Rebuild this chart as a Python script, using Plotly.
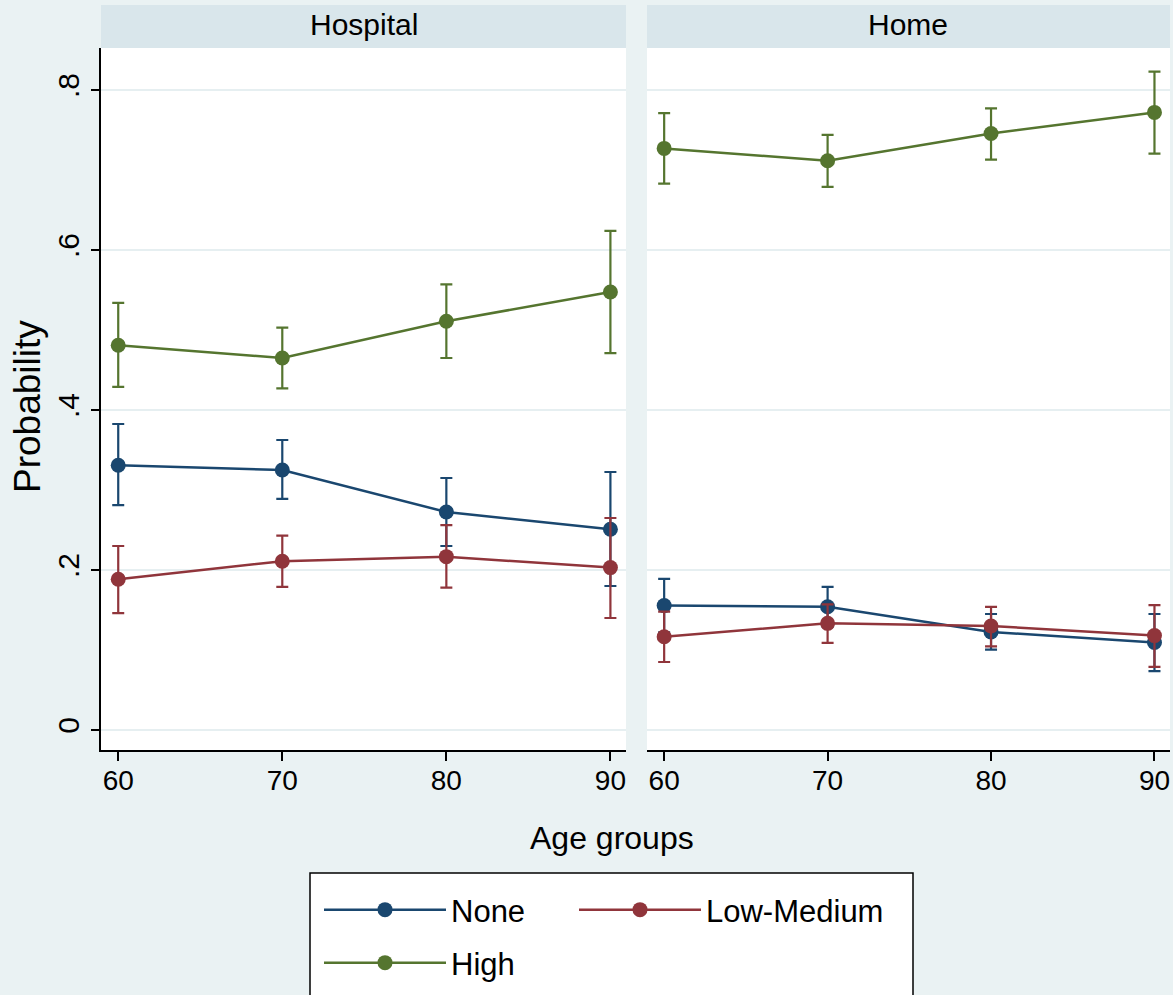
import plotly.graph_objects as go

ages = [60, 70, 80, 90]
series_names = ["None", "Low-Medium", "High"]
colors = {"None": "#1a476f", "Low-Medium": "#90353b", "High": "#55752f"}

# Hospital panel
hosp_none = [0.331, 0.325, 0.2725, 0.251]
hosp_none_lo = [0.281, 0.289, 0.230, 0.180]
hosp_none_hi = [0.3825, 0.3625, 0.315, 0.3225]
hosp_low = [0.1885, 0.211, 0.2167, 0.203]
hosp_low_lo = [0.146, 0.179, 0.178, 0.140]
hosp_low_hi = [0.230, 0.243, 0.256, 0.265]
hosp_high = [0.481, 0.465, 0.511, 0.5475]
hosp_high_lo = [0.429, 0.427, 0.465, 0.471]
hosp_high_hi = [0.534, 0.503, 0.557, 0.624]

# Home panel
home_none = [0.1555, 0.154, 0.1226, 0.1094]
home_none_lo = [0.122, 0.129, 0.1005, 0.0735]
home_none_hi = [0.189, 0.179, 0.145, 0.145]
home_low = [0.1166, 0.1333, 0.130, 0.118]
home_low_lo = [0.085, 0.109, 0.1046, 0.079]
home_low_hi = [0.148, 0.157, 0.154, 0.156]
home_high = [0.727, 0.7115, 0.7456, 0.772]
home_high_lo = [0.683, 0.679, 0.713, 0.7205]
home_high_hi = [0.771, 0.744, 0.777, 0.823]

panel_titles = ["Hospital", "Home"]
ytick_vals = [0, 0.2, 0.4, 0.6, 0.8]
ytick_text = ["0", ".2", ".4", ".6", ".8"]

W, H = 1173, 995
FONT = "Liberation Sans, Arial, Helvetica, sans-serif"

def px(x):
    return x / W

def py(y):
    return (H - y) / H

fig = go.Figure()

panels = [
    ("x", "y", {"None": (hosp_none, hosp_none_lo, hosp_none_hi),
                "Low-Medium": (hosp_low, hosp_low_lo, hosp_low_hi),
                "High": (hosp_high, hosp_high_lo, hosp_high_hi)}),
    ("x2", "y2", {"None": (home_none, home_none_lo, home_none_hi),
                  "Low-Medium": (home_low, home_low_lo, home_low_hi),
                  "High": (home_high, home_high_lo, home_high_hi)}),
]

legend_of = {"None": "legend", "Low-Medium": "legend3", "High": "legend2"}

for pi, (xa, ya, data) in enumerate(panels):
    for name in series_names:
        vals, lo, hi = data[name]
        plus = [h - v for h, v in zip(hi, vals)]
        minus = [v - l for v, l in zip(vals, lo)]
        fig.add_trace(go.Scatter(
            x=ages, y=vals, xaxis=xa, yaxis=ya, name=name,
            mode="lines+markers",
            line=dict(color=colors[name], width=2.5),
            marker=dict(color=colors[name], size=15),
            error_y=dict(type="data", symmetric=False, array=plus, arrayminus=minus,
                         color=colors[name], thickness=2.2, width=6),
            showlegend=(pi == 0), legend=legend_of[name],
        ))

dom1 = [px(101), px(626)]
dom2 = [px(647), px(1170)]
ydom = [py(750), py(48)]
yr = [-0.025, 0.8525]
xr = [58.95, 90.95]

common_x = dict(range=xr, tickvals=ages, ticks="outside", ticklen=9, tickwidth=1.5,
                tickcolor="black", showline=True, linecolor="black", linewidth=1.5,
                showgrid=False, zeroline=False, ticklabelstandoff=-4,
                tickfont=dict(family=FONT, size=28, color="black"))

leg_common = dict(orientation="h", xanchor="left", yanchor="middle",
                  bgcolor="rgba(0,0,0,0)", borderwidth=0, itemwidth=122,
                  font=dict(family=FONT, size=31, color="black"))

fig.update_layout(
    width=W, height=H,
    margin=dict(l=0, r=0, t=0, b=0),
    paper_bgcolor="#eaf2f3",
    plot_bgcolor="white",
    font=dict(family=FONT, color="black"),
    xaxis=dict(domain=dom1, anchor="y", **common_x),
    xaxis2=dict(domain=dom2, anchor="y2", **common_x),
    yaxis=dict(domain=ydom, anchor="x", range=yr, tickvals=ytick_vals, ticktext=ytick_text,
               tickangle=-90, ticks="outside", ticklen=8, tickwidth=1.5, tickcolor="black",
               showline=True, linecolor="black", linewidth=1.5,
               showgrid=True, gridcolor="#e6eff1", gridwidth=2, zeroline=False,
               tickfont=dict(family=FONT, size=30, color="black")),
    yaxis2=dict(domain=ydom, anchor="x2", range=yr, tickvals=ytick_vals, showticklabels=False,
                ticks="", showline=False,
                showgrid=True, gridcolor="#e6eff1", gridwidth=2, zeroline=False),
    legend=dict(x=px(319), y=py(910), **leg_common),
    legend3=dict(x=px(574), y=py(910), **leg_common),
    legend2=dict(x=px(319), y=py(963), **leg_common),
    showlegend=True,
)

shapes = []
for dom in (dom1, dom2):
    shapes.append(dict(type="rect", xref="paper", yref="paper", x0=dom[0], x1=dom[1],
                       y0=py(48), y1=py(5), fillcolor="#d9e6eb", line=dict(width=0),
                       layer="below"))
shapes.append(dict(type="rect", xref="paper", yref="paper", x0=px(310), x1=px(913),
                   y0=-0.02, y1=py(873), fillcolor="white",
                   line=dict(color="black", width=1.5), layer="below"))
fig.update_layout(shapes=shapes)

annotations = []
for dom, title in zip((dom1, dom2), panel_titles):
    annotations.append(dict(text=title, xref="paper", yref="paper", x=(dom[0] + dom[1]) / 2,
                            y=py(25), xanchor="center", yanchor="middle", showarrow=False,
                            font=dict(family=FONT, size=30, color="black")))
annotations.append(dict(text="Age groups", xref="paper", yref="paper", x=px(612), y=py(838),
                        xanchor="center", yanchor="middle", showarrow=False,
                        font=dict(family=FONT, size=32, color="black")))
annotations.append(dict(text="Probability", xref="paper", yref="paper", x=px(27), y=py(407),
                        xanchor="center", yanchor="middle", showarrow=False, textangle=-90,
                        font=dict(family=FONT, size=37, color="black")))
fig.update_layout(annotations=annotations)

fig.write_html("out.html", config={"displayModeBar": False},
               post_script="document.body.style.margin='0';document.body.style.overflow='hidden';")
